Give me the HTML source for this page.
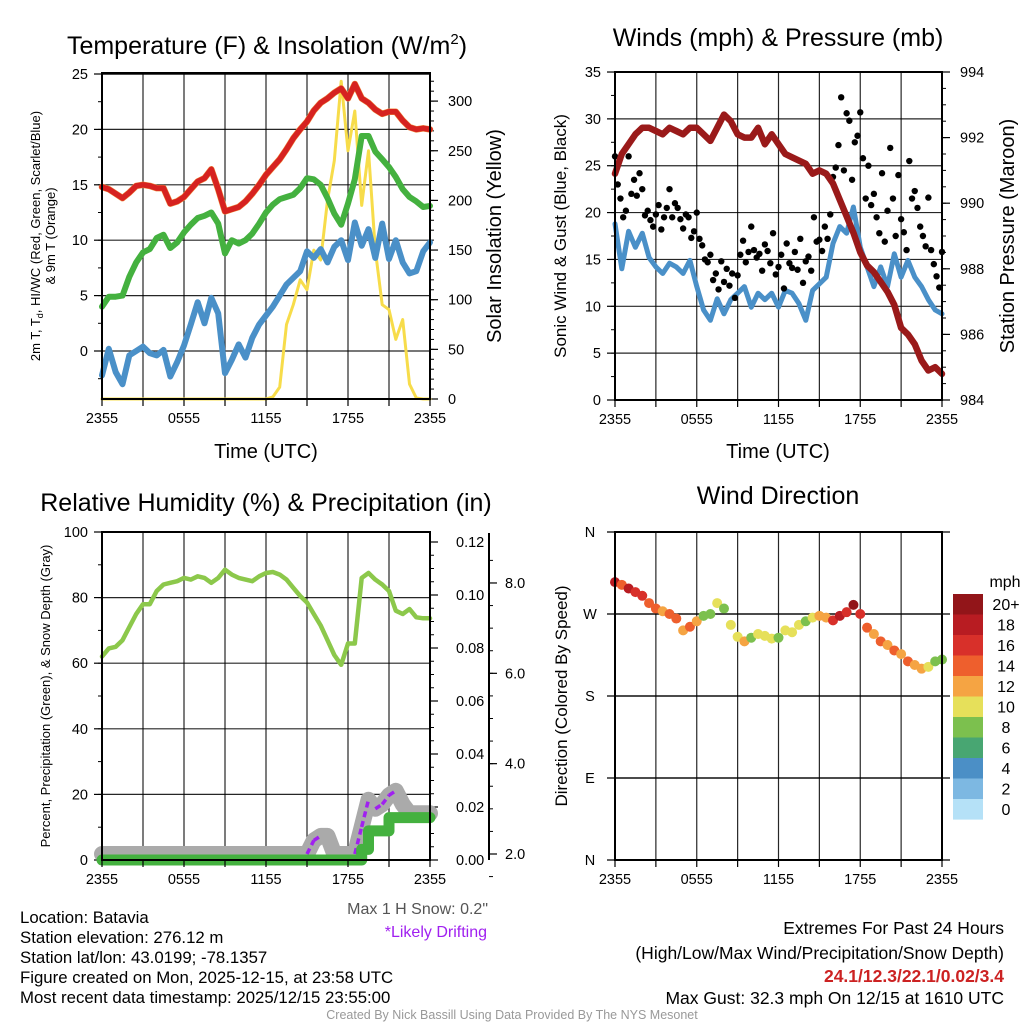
<!DOCTYPE html>
<html><head><meta charset="utf-8">
<style>
html,body{margin:0;padding:0;background:#fff;}
svg{display:block;font-family:"Liberation Sans",Arial,sans-serif;}
</style></head>
<body>
<svg id="chart" width="1024" height="1024" viewBox="0 0 1024 1024" xmlns="http://www.w3.org/2000/svg">
<rect x="0" y="0" width="1024" height="1024" fill="#fff"/>
<text x="267" y="54" font-size="25" text-anchor="middle">Temperature (F) &amp; Insolation (W/m<tspan font-size="15" dy="-10">2</tspan><tspan dy="10">)</tspan></text>
<text x="778" y="46" font-size="25" text-anchor="middle">Winds (mph) &amp; Pressure (mb)</text>
<text x="266" y="511" font-size="25" text-anchor="middle">Relative Humidity (%) &amp; Precipitation (in)</text>
<text x="778" y="504" font-size="25" text-anchor="middle">Wind Direction</text>
<text x="266" y="458" font-size="20" text-anchor="middle">Time (UTC)</text>
<text x="778" y="458" font-size="20" text-anchor="middle">Time (UTC)</text>
<text transform="translate(40,236) rotate(-90)" font-size="13" text-anchor="middle">2m T, T<tspan font-size="9" dy="3">d</tspan><tspan dy="-3">, HI/WC (Red, Green, Scarlet/Blue)</tspan></text>
<text transform="translate(55,236) rotate(-90)" font-size="13" text-anchor="middle">&amp; 9m T (Orange)</text>
<text transform="translate(501,236) rotate(-90)" font-size="20" text-anchor="middle">Solar Insolation (Yellow)</text>
<text transform="translate(566,236) rotate(-90)" font-size="17" text-anchor="middle">Sonic Wind &amp; Gust (Blue, Black)</text>
<text transform="translate(1014,236) rotate(-90)" font-size="20" text-anchor="middle">Station Pressure (Maroon)</text>
<text transform="translate(50,696) rotate(-90)" font-size="13" text-anchor="middle">Percent, Precipitation (Green), &amp; Snow Depth (Gray)</text>
<text transform="translate(567,696) rotate(-90)" font-size="17" text-anchor="middle">Direction (Colored By Speed)</text>
<text x="488" y="914" font-size="16" fill="#555" text-anchor="end">Max 1 H Snow: 0.2"</text>
<text x="487" y="937" font-size="16" fill="#a020f0" text-anchor="end">*Likely Drifting</text>
<g font-size="16.8">
<text x="20" y="923">Location: Batavia</text>
<text x="20" y="943">Station elevation: 276.12 m</text>
<text x="20" y="963">Station lat/lon: 43.0199; -78.1357</text>
<text x="20" y="983">Figure created on Mon, 2025-12-15, at 23:58 UTC</text>
<text x="20" y="1003">Most recent data timestamp: 2025/12/15 23:55:00</text>
</g>
<g font-size="17.5" text-anchor="end">
<text x="1004" y="934">Extremes For Past 24 Hours</text>
<text x="1004" y="959">(High/Low/Max Wind/Precipitation/Snow Depth)</text>
<text x="1004" y="982" font-weight="bold" fill="#cc2222">24.1/12.3/22.1/0.02/3.4</text>
<text x="1004" y="1004">Max Gust: 32.3 mph On 12/15 at 1610 UTC</text>
</g>
<text x="512" y="1019" font-size="12.5" fill="#999" text-anchor="middle">Created By Nick Bassill Using Data Provided By The NYS Mesonet</text>
</svg>
<script>
// ---- data (half-hourly, 2355 -> 2355 UTC) ----
const timeLabels = ['2355','0555','1155','1755','2355'];
const tempF = [14.8,14.6,14.2,13.8,14.3,14.9,15.0,14.9,14.7,14.7,13.3,13.5,13.9,14.6,15.3,15.6,16.4,14.6,12.6,12.8,13.0,13.5,14.2,15.0,15.9,16.6,17.3,18.2,19.2,20.0,20.7,21.7,22.4,22.8,23.3,23.7,22.8,24.1,22.8,22.4,21.8,21.4,21.6,21.6,20.8,20.2,20.0,20.1,20.0];
const dewF = [4.0,4.9,4.9,5.0,6.7,8.0,8.9,9.2,10.2,10.5,9.3,9.8,10.7,11.4,12.0,12.2,12.5,11.5,8.8,10.0,9.7,10.0,10.6,11.5,12.5,13.2,13.7,13.9,14.1,14.7,15.6,15.5,15.0,13.8,12.4,11.4,13.3,15.5,19.4,19.4,18.0,17.3,16.6,15.7,14.6,13.9,13.5,13.0,13.1];
const chillF = [-2.2,0.2,-1.9,-3.0,-0.4,0.0,0.4,-0.2,-0.4,0.1,-2.3,-1.0,0.5,2.4,4.4,2.5,4.8,3.4,-2.0,-0.8,0.6,-0.6,1.2,2.4,3.2,4.0,5.0,6.0,6.6,7.2,9.0,8.4,9.2,8.0,9.4,10.0,8.2,11.6,9.5,11.0,8.4,11.5,8.3,10.0,8.0,7.0,7.2,9.0,9.8];
const solar = [0,0,0,0,0,0,0,0,0,0,0,0,0,0,0,0,0,0,0,0,0,0,0,0,0,2,12,75,95,120,110,150,140,200,240,320,250,290,195,250,150,95,90,60,80,15,1,0,0];
const windMph = [18.8,14.0,18.0,16.3,17.8,15.2,14.2,13.5,14.6,14.2,13.5,14.9,12.1,9.6,8.5,10.8,9.2,10.7,11.4,12.1,9.9,11.4,10.7,11.4,9.9,11.7,11.4,10.3,8.5,11.7,12.4,13.1,16.7,18.5,17.8,20.6,16.3,14.2,12.1,14.2,12.1,15.6,13.1,14.9,13.1,12.1,10.7,9.6,9.2];
const gustMph = [26,23,21.5,19.5,20.2,26,22,23.5,21.8,24.2,22.5,19.7,20.2,19.2,18.5,19.8,20.8,18.2,19.5,20.5,22.5,19.5,21,20.5,19.3,18.3,19.8,19.5,17.3,18,20,17.2,16.5,15,14.7,15.5,12.8,13.5,11.8,14.8,12.6,14,12.2,13.5,10.9,13.3,15.5,17,14.7,15.8,18.5,16,15.2,15.6,13.8,16.6,15.9,14.6,17.8,13.4,14.2,15.5,11.9,16.7,14.6,14.1,15.8,13.9,17.2,12.5,14.8,15.3,13.8,19.5,16.9,17.1,15.9,18.5,17.2,19.8,23.8,24.8,27.2,32.3,24.5,30.6,29.8,23.5,27.5,28.2,30.7,25.8,21.5,25,20.8,22,19.5,17.8,24.2,16.9,20.2,26.9,21.5,17.5,24,19.3,17.9,16,25.5,21.5,22.3,20.5,18.5,17.5,16.4,21.6,16,14.5,13.2,12,15.8];
const pressureMb = [990.9,991.5,991.8,992.1,992.3,992.3,992.2,992.1,992.3,992.2,992.1,992.3,992.3,992.1,991.9,992.3,992.7,992.5,992.1,992.0,992.0,992.3,991.8,992.1,991.8,991.5,991.4,991.3,991.2,990.9,991.0,990.9,990.6,990.1,989.6,989.1,988.5,988.1,987.9,987.6,987.3,986.9,986.2,986.0,985.7,985.2,984.9,985.0,984.8];
const rhPct = [62,64.5,65,67,71,75,78,78,82,84,84.5,85,86,85.5,86.5,86,84.5,86,88.5,87,86,85.5,85,86.5,87.5,87.8,87,85.5,83,80.5,78.5,75,71.5,67,62.5,59.5,66,66,86,87.5,85.5,84,82,76,75,76.5,74,73.7,73.7];
const precipIn = [0,0,0,0,0,0,0,0,0,0,0,0,0,0,0,0,0,0,0,0,0,0,0,0,0,0,0,0,0,0,0,0,0,0,0,0,0,0,0.004,0.011,0.011,0.011,0.016,0.016,0.016,0.016,0.016,0.016,0.016];
const snowIn = [2.0,2.0,2.0,2.0,2.0,2.0,2.0,2.0,2.0,2.0,2.0,2.0,2.0,2.0,2.0,2.0,2.0,2.0,2.0,2.0,2.0,2.0,2.0,2.0,2.0,2.0,2.0,2.0,2.0,2.0,2.0,2.3,2.4,2.4,2.0,2.0,2.0,2.0,2.6,3.2,3.0,3.1,3.3,3.4,3.1,2.9,2.9,2.9,2.9];
const dirDeg = [305,302,298,294,290,282,276,273,270,265,252,256,262,268,270,282,276,258,245,240,244,248,246,243,244,252,250,258,262,266,268,266,263,268,272,280,270,255,248,240,236,230,226,218,214,210,212,218,220];
const speedBins = ['0','2','4','6','8','10','12','14','16','18','20+'];
const binColors = ['#b5e1f7','#7db8e2','#4b8fc6','#48a672','#7cc04e','#e6e05a','#f5a443','#ee5f2d','#d8302a','#b81c22','#921519'];
const dirLabels = ['N','W','S','E','N'];

const NS='http://www.w3.org/2000/svg';
const svg=document.getElementById('chart');
function mk(tag,attrs,parent){const e=document.createElementNS(NS,tag);for(const k in attrs)e.setAttribute(k,attrs[k]);(parent||svg).appendChild(e);return e;}

const P1={x0:102,x1:430,y0:73,y1:399}, P2={x0:615,x1:942,y0:72,y1:400}, P3={x0:102,x1:430,y0:532,y1:860}, P4={x0:615,x1:942,y0:532,y1:860};
const xh=(p,h)=>p.x0+h/24*(p.x1-p.x0);
const yTemp=v=>351-v*11.08, ySolar=w=>399-w*0.993;
const yWind=v=>400-v*9.371, yPres=p=>400-(p-984)*32.8;
const yRH=v=>860-v*3.28, yPr=p=>860-p*2650, ySnow=s=>854-(s-2)*45.17;
const yDir=d=>860-d*328/360;

function grid(p,yvals,name){
  const g=mk('g',{});
  
  
  for(let h=3;h<24;h+=3) mk('line',{x1:xh(p,h),x2:xh(p,h),y1:p.y0,y2:p.y1,stroke:'#000','stroke-width':1.2,'stroke-opacity':0.85},g);
  yvals.forEach(y=>mk('line',{x1:p.x0,x2:p.x1,y1:y,y2:y,stroke:'#000','stroke-width':1.2,'stroke-opacity':0.85},g));
}
function frame(p,name){
  const r=mk('rect',{x:p.x0,y:p.y0,width:p.x1-p.x0,height:p.y1-p.y0,fill:'none',stroke:'#000','stroke-width':2});
  
  
  const g=mk('g',{'font-size':14.5,'text-anchor':'middle'});
  
  
  for(let h=0;h<=24;h+=3) mk('line',{x1:xh(p,h),x2:xh(p,h),y1:p.y1,y2:p.y1+7,stroke:'#000','stroke-width':1.2},g);
  timeLabels.forEach((t,i)=>{const tx=mk('text',{x:xh(p,i*6),y:p.y1+24},g);tx.textContent=t;
    
    });
}
function axis(x,dir,lo,hi,major,mlo,mhi,minor,fy,fmt,name,labOff){
  const g=mk('g',{'font-size':14.5,'text-anchor':dir<0?'end':'start'});
  
  
  const nm=Math.round((mhi-mlo)/minor);
  for(let i=0;i<=nm;i++){const v=mlo+i*minor;mk('line',{x1:x,x2:x+dir*4,y1:fy(v),y2:fy(v),stroke:'#000','stroke-width':1},g);}
  const nM=Math.round((hi-lo)/major);
  for(let i=0;i<=nM;i++){const v=lo+i*major;
    mk('line',{x1:x,x2:x+dir*8,y1:fy(v),y2:fy(v),stroke:'#000','stroke-width':1.2},g);
    const t=mk('text',{x:x+dir*(labOff||14),y:fy(v)+5},g);t.textContent=fmt(v);
    
    
  }
}
function line(p,arr,fy,color,w,name,step){
  let d='';
  arr.forEach((v,i)=>{const x=xh(p,i*24/(arr.length-1));
    if(step&&i>0) d+='L'+x.toFixed(1)+' '+fy(arr[i-1]).toFixed(1);
    d+=(i?'L':'M')+x.toFixed(1)+' '+fy(v).toFixed(1);});
  const e=mk('path',{d:d,fill:'none',stroke:color,'stroke-width':w,'stroke-linejoin':'round','stroke-linecap':'round'});
  
  
  return e;
}

// Panel 1
grid(P1,[0,5,10,15,20,25].map(yTemp),'temperature');
axis(P1.x0,-1,0,25,5,-2.5,25,2.5,yTemp,v=>v.toFixed(0),'temperature-y-axis');
axis(P1.x1,1,0,300,50,0,320,10,ySolar,v=>v.toFixed(0),'insolation-y-axis',18);
line(P1,solar,ySolar,'#f7dc4a',3,'insolation-line');
line(P1,chillF,yTemp,'#4a90c8',6,'windchill-line');
line(P1,dewF,yTemp,'#44b13f',6,'dewpoint-line');
line(P1,tempF,yTemp,'#f08a3c',6.5,'temp-9m-line');
line(P1,tempF,yTemp,'#d62220',5.5,'temp-2m-line');
frame(P1,'temperature');
{const l=mk('line',{x1:P1.x0,x2:P1.x1,y1:yTemp(25),y2:yTemp(25),stroke:'#000','stroke-width':1.2});
 
 }

// Panel 2
grid(P2,[5,10,15,20,25,30].map(yWind),'wind');
axis(P2.x0,-1,0,35,5,0,35,2.5,yWind,v=>v.toFixed(0),'wind-y-axis');
axis(P2.x1,1,984,994,2,984,994,0.5,yPres,v=>v.toFixed(0),'pressure-y-axis',18);
line(P2,windMph,yWind,'#4a90c8',5,'wind-speed-line');
{const g=mk('g',{});
 
 
 gustMph.forEach((v,i)=>{const c=mk('circle',{cx:xh(P2,i*24/(gustMph.length-1)),cy:yWind(v),r:3.2,fill:'#000'},g);
   
   });}
line(P2,pressureMb,yPres,'#9a1a1a',6.5,'pressure-line');
frame(P2,'wind');

// Panel 3
grid(P3,[20,40,60,80].map(yRH),'humidity');
axis(P3.x0,-1,0,100,20,0,100,10,yRH,v=>v.toFixed(0),'humidity-y-axis');
axis(P3.x1,1,0,0.12,0.02,0,0.12,0.005,yPr,v=>v.toFixed(2),'precip-y-axis',26);
{const l=mk('line',{x1:489,x2:489,y1:533,y2:860,stroke:'#000','stroke-width':2});
 
 }
axis(489,1,2,8,2,1.5,8.5,0.5,ySnow,v=>v.toFixed(1),'snow-y-axis',16);
line(P3,snowIn,ySnow,'#aaaaaa',16,'snow-depth-line');
{let d='';snowIn.forEach((v,i)=>{if(i>0&&v>snowIn[i-1]){const xa=xh(P3,(i-1)/2),xb=xh(P3,i/2);d+='M'+xa+' '+ySnow(snowIn[i-1])+'L'+xb+' '+ySnow(v);}});
 const e=mk('path',{d:d,fill:'none',stroke:'#a020f0','stroke-width':3.5,'stroke-dasharray':'6 4'});
 
 }
line(P3,precipIn,yPr,'#44b13f',11,'precip-line',true);
line(P3,rhPct,yRH,'#8cc84b',4.5,'rh-line');
frame(P3,'humidity');

// Panel 4
grid(P4,[614,696,778],'direction');
{const g=mk('g',{'font-size':14.5,'text-anchor':'middle'});
 
 
 dirLabels.forEach((t,i)=>{const y=532+i*82;mk('line',{x1:P4.x0-8,x2:P4.x1+8,y1:y,y2:y,stroke:'#000','stroke-width':1.2},g);
   const tx=mk('text',{x:590,y:y+5},g);tx.textContent=t;
   
   });}
{const g=mk('g',{});
 
 
 dirDeg.forEach((d,i)=>{const s=windMph[i];const b=Math.min(10,Math.max(0,Math.floor(s/2)));
   const c=mk('circle',{cx:xh(P4,i/2),cy:yDir(d),r:5,fill:binColors[b]},g);
   
   });}
frame(P4,'direction');
{const g=mk('g',{'font-size':16,'text-anchor':'middle'});
 
 
 const t=mk('text',{x:1005,y:587},g);t.textContent='mph';
 
 
 speedBins.forEach((lab,i)=>{const k=10-i;const y=594+i*20.5;
   const r=mk('rect',{x:953,y:y,width:30,height:20.6,fill:binColors[k]},g);
   
   
   const tx=mk('text',{x:1006,y:y+16},g);tx.textContent=speedBins[k];
   
   });}
</script>
</body></html>
